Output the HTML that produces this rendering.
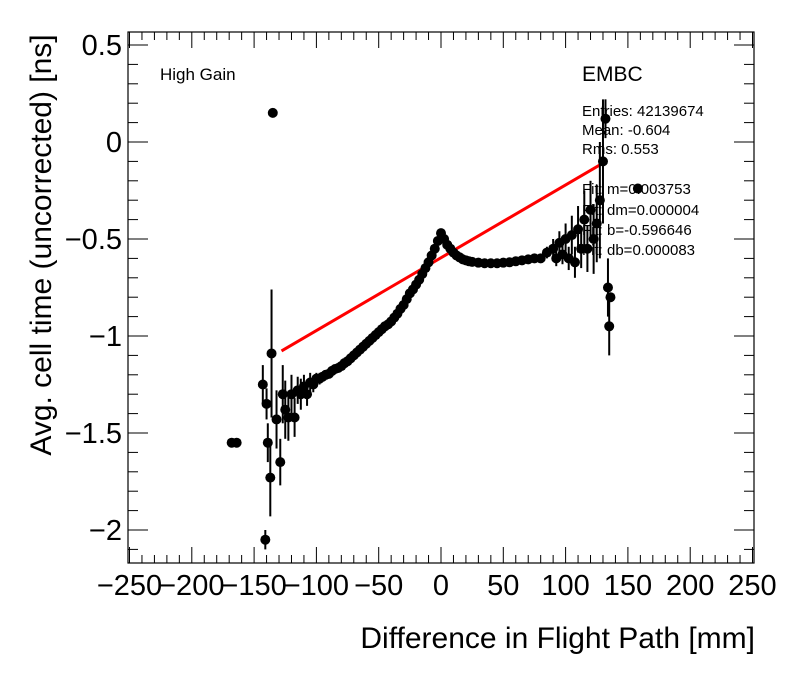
<!DOCTYPE html>
<html><head><meta charset="utf-8"><style>
body{margin:0;background:#fff}
svg text{font-family:"Liberation Sans",sans-serif}
</style></head><body>
<svg id="c" width="796" height="672" xmlns="http://www.w3.org/2000/svg">
<rect width="796" height="672" fill="#fff"/>
<g id="ticks"></g>
<g id="marks"></g>
<rect x="128" y="32" width="626" height="531" fill="none" stroke="#000" stroke-width="1.2"/>
<text x="160" y="80" font-size="17">High Gain</text>
<g font-size="15">
<text x="582" y="81" font-size="21">EMBC</text>
<text x="582" y="116">Entries: 42139674</text>
<text x="582" y="135">Mean: -0.604</text>
<text x="582" y="154">Rms: 0.553</text>
<text x="582" y="194">Fit: m=0.003753</text>
<text x="582" y="215">Fit: dm=0.000004</text>
<text x="582" y="235">Fit: b=-0.596646</text>
<text x="582" y="255">Fit: db=0.000083</text>
</g>
<text x="755" y="648" font-size="30" text-anchor="end">Difference in Flight Path [mm]</text>
<text transform="translate(51,245) rotate(-90)" font-size="30" text-anchor="middle">Avg. cell time (uncorrected) [ns]</text>
</svg>
<script>
const xTicks=[-250,-200,-150,-100,-50,0,50,100,150,200,250];
const xTickLabels=["\u2212250","\u2212200","\u2212150","\u2212100","\u221250","0","50","100","150","200","250"];
const yTicks=[0.5,0,-0.5,-1,-1.5,-2];
const yTickLabels=["0.5","0","\u22120.5","\u22121","\u22121.5","\u22122"];
const ptX=[-168,-164,-143,-141,-140,-139,-137,-136,-135,-132,-129,-127,-125,-122.5,-120,-117.5,-115,-112.5,-110,-107.5,-105,-102.5,-100,-97.5,-95,-92.5,-90,-87.5,-85,-82.5,-80,-77.5,-75,-72.5,-70,-67.5,-65,-62.5,-60,-57.5,-55,-52.5,-50,-47.5,-45,-42.5,-40,-37.5,-35,-32.5,-30,-27.5,-25,-22.5,-20,-17.5,-15,-12.5,-10,-7.5,-5,-2.5,0,2.5,5,7.5,10,12.5,15,17.5,20,22.5,25,30,35,40,45,50,55,60,65,70,75,80,85,90,92.5,95,97.5,100,102.5,105,107.5,110,112.5,115,117.5,120,122.5,125,127.5,130,132,134,135,136,158];
const ptY=[-1.55,-1.55,-1.25,-2.05,-1.35,-1.55,-1.73,-1.09,0.15,-1.43,-1.65,-1.3,-1.38,-1.42,-1.3,-1.42,-1.28,-1.3,-1.26,-1.3,-1.24,-1.25,-1.22,-1.22,-1.21,-1.2,-1.195,-1.18,-1.17,-1.165,-1.155,-1.14,-1.13,-1.115,-1.1,-1.085,-1.07,-1.055,-1.04,-1.025,-1.01,-0.995,-0.98,-0.965,-0.95,-0.94,-0.925,-0.905,-0.885,-0.86,-0.84,-0.81,-0.78,-0.76,-0.735,-0.71,-0.68,-0.65,-0.62,-0.585,-0.55,-0.51,-0.47,-0.5,-0.53,-0.55,-0.57,-0.585,-0.595,-0.605,-0.61,-0.615,-0.618,-0.622,-0.625,-0.625,-0.625,-0.622,-0.62,-0.615,-0.61,-0.605,-0.6,-0.6,-0.57,-0.55,-0.6,-0.52,-0.58,-0.5,-0.6,-0.48,-0.62,-0.45,-0.55,-0.4,-0.55,-0.35,-0.5,-0.42,-0.3,-0.1,0.12,-0.75,-0.95,-0.8,-0.24];
const ptErr=[0,0,0.1,0.05,0.08,0.1,0.2,0.33,0,0.15,0.12,0.15,0.15,0.12,0.1,0.1,0.07,0.08,0.06,0.06,0.05,0.04,0.03,0.03,0.02,0.02,0.02,0.01,0.01,0.01,0.01,0.01,0.01,0,0,0,0,0,0,0,0,0,0,0,0,0,0,0,0,0,0,0,0,0,0,0,0,0,0,0,0,0,0,0,0,0,0,0,0,0,0,0,0,0,0,0,0,0,0,0,0,0,0.01,0.02,0.03,0.05,0.04,0.06,0.05,0.08,0.06,0.1,0.08,0.12,0.1,0.15,0.12,0.15,0.18,0.2,0.3,0.32,0.1,0.15,0.15,0];
const fitM=0.003753, fitB=-0.596646, fitX=[-128,128];
const X0=441,XS=1.246,Y0=142,YS=194;
const sx=v=>X0+v*XS, sy=v=>Y0-v*YS;
const NS="http://www.w3.org/2000/svg";
const tk=document.getElementById('ticks'),mk=document.getElementById('marks');
function mkEl(t,a,p){const e=document.createElementNS(NS,t);for(const k in a)e.setAttribute(k,a[k]);p.appendChild(e);return e;}
for(let v=-250;v<=250;v+=10){const x=sx(v);const major=(v%50===0);const L=major?16:8;
const t1=mkEl('line',{x1:x,x2:x,y1:563,y2:563-L,stroke:'#000'},tk);


const t2=mkEl('line',{x1:x,x2:x,y1:32,y2:32+L,stroke:'#000'},tk);

}
xTicks.forEach((v,i)=>{const t=mkEl('text',{x:sx(v),y:595,'font-size':29,'text-anchor':'middle'},tk);t.textContent=xTickLabels[i];

});
for(let k=-21;k<=5;k++){const v=k/10;const y=sy(v);if(y<32||y>563)continue;const major=(k%5===0);const L=major?20:10;
const t1=mkEl('line',{x1:128,x2:128+L,y1:y,y2:y,stroke:'#000'},tk);


const t2=mkEl('line',{x1:754,x2:754-L,y1:y,y2:y,stroke:'#000'},tk);

}
yTicks.forEach((v,i)=>{const t=mkEl('text',{x:122,y:sy(v)+10,'font-size':29,'text-anchor':'end'},tk);t.textContent=yTickLabels[i];

});
const fl=mkEl('line',{x1:sx(fitX[0]),y1:sy(fitM*fitX[0]+fitB),x2:sx(fitX[1]),y2:sy(fitM*fitX[1]+fitB),stroke:'#f00','stroke-width':3},mk);


ptX.forEach((v,i)=>{const x=sx(v),y=sy(ptY[i]);
if(ptErr[i]>0){const e=mkEl('line',{x1:x,x2:x,y1:sy(ptY[i]+ptErr[i]),y2:sy(ptY[i]-ptErr[i]),stroke:'#000','stroke-width':2},mk);

}
const c=mkEl('circle',{cx:x,cy:y,r:5,fill:'#000'},mk);

});
</script>
</body></html>
